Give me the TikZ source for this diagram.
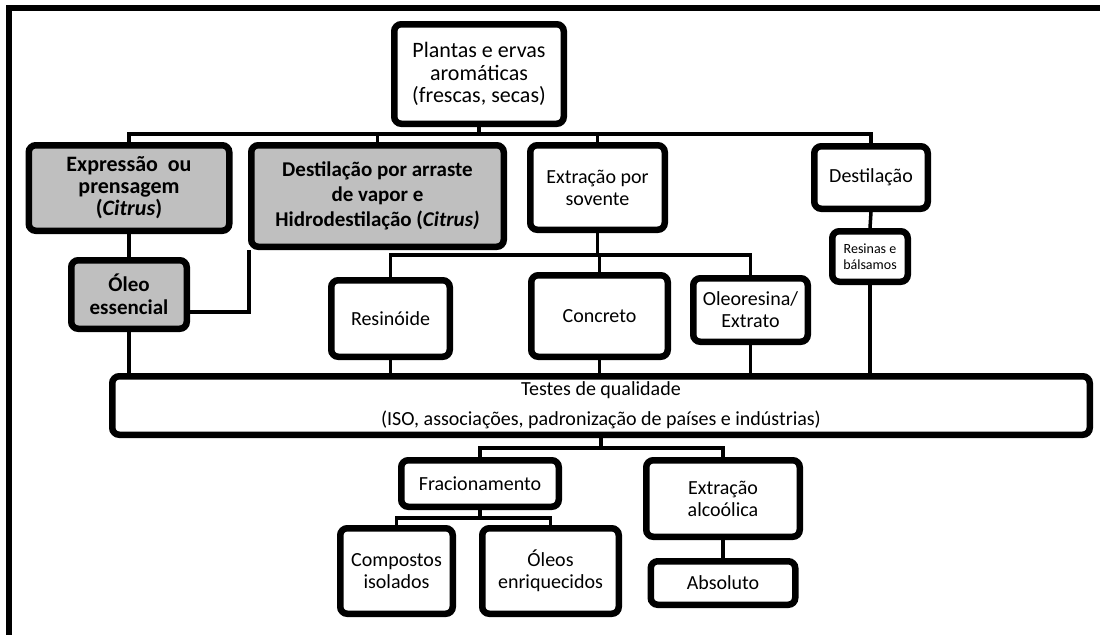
\documentclass[tikz,border=0pt]{standalone}
\usepackage{fontspec}
\setmainfont{Carlito}
\usetikzlibrary{shadows,backgrounds}

\definecolor{boxgray}{RGB}{191,191,191}

\tikzset{
  box/.style={draw=black, line width=6.5pt, rounded corners=7pt, fill=white,
    align=center, inner sep=0pt, font=\fontsize{20}{22}\selectfont,
    drop shadow={shadow xshift=2pt, shadow yshift=-2.5pt, fill=black, opacity=0.2}},
  graybox/.style={box, fill=boxgray},
  wh/.style 2 args={minimum width={#1pt-6.5pt}, minimum height={#2pt-6.5pt}},
  conn/.style={draw=black, line width=3.5pt}
}

\begin{document}
\begin{tikzpicture}[x=1pt, y=-1pt]
  \useasboundingbox (0,0) rectangle (1100,635);

  % frame along the top and left edges
  \draw[line width=6pt] (1100,8) -- (9,8) -- (9,635);

  % source material
  \node[box, wh={176}{106}, font=\fontsize{22}{22.5}\selectfont] (top) at (479,74)
    {Plantas e ervas\\aromáticas\\(frescas, secas)};

  % extraction methods
  \node[graybox, wh={207}{92}, font=\fontsize{22}{22}\selectfont\bfseries] (expr) at (129,188)
    {Expressão\ \ ou\\prensagem\\(\textit{Citrus})};
  \node[graybox, wh={259}{108}, font=\fontsize{21}{25}\selectfont\bfseries] (dest) at (377.5,196)
    {Destilação por arraste\\de vapor e\\Hidrodestilação (\textit{Citrus)}};
  \node[box, wh={141}{91}] (ext) at (597.5,187.5) {Extração por\\sovente};
  \node[box, wh={120}{69}] (destR) at (871,177.5) {Destilação};
  \node[box, wh={82}{57}, font=\fontsize{14}{16}\selectfont] (resinas) at (870,256.5)
    {Resinas e\\bálsamos};

  % products
  \node[graybox, wh={122}{75}, font=\fontsize{21}{23}\selectfont\bfseries] (oleo) at (129,294.5)
    {Óleo\\essencial};
  \node[box, wh={125}{83}] (resinoide) at (390.5,318.5) {Resinóide};
  \node[box, wh={143}{88}] (concreto) at (599.5,316) {Concreto};
  \node[box, wh={121}{70}] (oleores) at (750.5,310) {Oleoresina/\\Extrato};

  % quality control
  \node[box, wh={984}{65}, font=\fontsize{20}{30}\selectfont] (testes) at (601,405.5)
    {Testes de qualidade\\(ISO, associações, padronização de países e indústrias)};

  % further processing
  \node[box, wh={164}{53}] (frac) at (480,483.5) {Fracionamento};
  \node[box, wh={160}{83}] (extalc) at (723,498.5) {Extração\\alcoólica};
  \node[box, wh={151}{50}] (abs) at (723,583) {Absoluto};
  \node[box, wh={119}{92}] (comp) at (396.5,571) {Compostos\\isolados};
  \node[box, wh={143}{92}] (oleos) at (550.5,571) {Óleos\\enriquecidos};

  % branch points
  \coordinate (b1) at (479,134);
  \coordinate (b2) at (597.5,255);
  \coordinate (b3) at (601,448);
  \coordinate (b4) at (480,518);

  \begin{scope}[on background layer]
    \draw[conn] (top.south) -- (b1);
    \draw[conn] (expr.north) -- (expr.north |- b1) -- (destR.north |- b1) -- (destR.north);
    \draw[conn] (dest.north |- b1) -- (dest.north);
    \draw[conn] (ext.north |- b1) -- (ext.north);

    \draw[conn] (expr.south) -- (oleo.north);
    \draw[conn] ([xshift=1pt]dest.south west) |- ([yshift=-17.5pt]oleo.east);

    \draw[conn] (ext.south) -- (b2);
    \draw[conn] (resinoide.north) -- (resinoide.north |- b2) -- (oleores.north |- b2) -- (oleores.north);
    \draw[conn] (concreto.north |- b2) -- (concreto.north);

    \draw[conn] (destR.south) -- (resinas.north);

    \draw[conn] (oleo.south) -- (oleo.south |- testes.north);
    \draw[conn] (resinoide.south) -- (resinoide.south |- testes.north);
    \draw[conn] (concreto.south) -- (concreto.south |- testes.north);
    \draw[conn] (oleores.south) -- (oleores.south |- testes.north);
    \draw[conn] (resinas.south) -- (resinas.south |- testes.north);

    \draw[conn] (testes.south) -- (b3);
    \draw[conn] (frac.north) -- (frac.north |- b3) -- (extalc.north |- b3) -- (extalc.north);
    \draw[conn] (extalc.south) -- (abs.north);

    \draw[conn] (frac.south) -- (b4);
    \draw[conn] (comp.north) -- (comp.north |- b4) -- (oleos.north |- b4) -- (oleos.north);
  \end{scope}
\end{tikzpicture}
\end{document}
